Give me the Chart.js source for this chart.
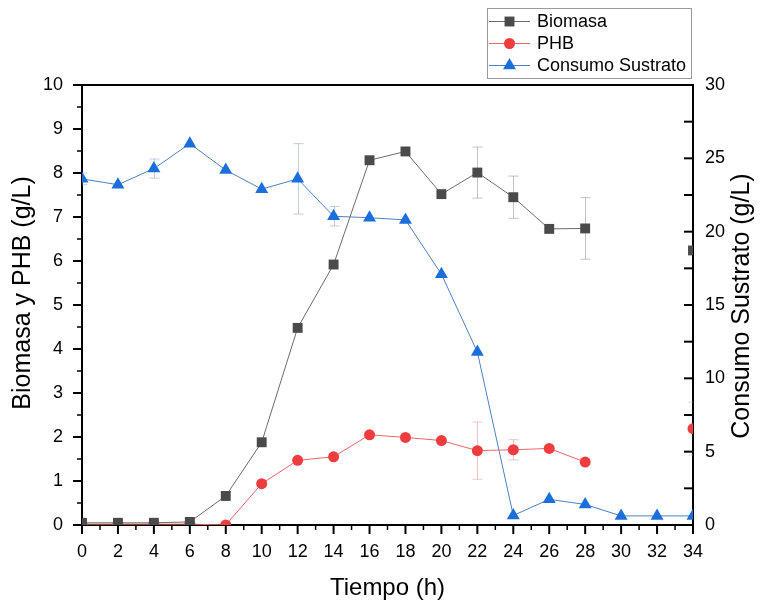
<!DOCTYPE html>
<html>
<head>
<meta charset="utf-8">
<script src="https://cdn.jsdelivr.net/npm/chart.js@4/dist/chart.umd.min.js"></script>
<style>
  html, body { margin: 0; padding: 0; background: #fff; }
  #wrap { width: 761px; height: 603px; }
</style>
</head>
<body>
<div id="wrap"><canvas id="chart" width="761" height="603"></canvas></div>
<script>
// data
const hours = [0, 2, 4, 6, 8, 10, 12, 14, 16, 18, 20, 22, 24, 26, 28, 30, 32, 34];
const biomasa = [0.05, 0.05, 0.05, 0.07, 0.66, 1.88, 4.48, 5.92, 8.29, 8.49, 7.52, 8.01, 7.45, 6.73, 6.74, null, null, 6.24];
const biomasaErr = [0, 0, 0, 0, 0, 0, 0, 0, 0, 0, 0, 0.58, 0.48, 0, 0.7, 0, 0, 0];
const phb = [0.02, 0.02, 0.02, 0.02, 0.0, 0.94, 1.47, 1.55, 2.05, 1.99, 1.92, 1.69, 1.71, 1.74, 1.43, null, null, 2.19];
const phbErr = [0, 0, 0, 0, 0, 0, 0, 0, 0, 0, 0, 0.65, 0.23, 0, 0, 0, 0, 0.6];
const sustrato = [23.6, 23.2, 24.3, 26.0, 24.2, 22.9, 23.6, 21.05, 20.95, 20.8, 17.1, 11.8, 0.65, 1.75, 1.4, 0.62, 0.62, 0.62];
const sustratoErr = [0.4, 0, 0.65, 0, 0, 0, 2.4, 0.66, 0, 0, 0, 0, 0, 0, 0, 0, 0, 0];

const xTicks = [0, 34, 2];      // min, max, step
const yLeftTicks = [0, 10, 1];
const yRightTicks = [0, 30, 5];

const FONT = "'Liberation Sans', Arial, sans-serif";
Chart.defaults.font.family = FONT;
Chart.defaults.color = '#000';

const toXY = (vals) => hours.map((h, i) => ({ x: h, y: vals[i] }));

const series = [
  { label: 'Biomasa', values: biomasa, err: biomasaErr, axis: 'y',
    line: '#6b6b6b', fill: '#4a4a4a', style: 'rect', r: 7, errColor: 'rgba(120,120,120,0.45)' },
  { label: 'PHB', values: phb, err: phbErr, axis: 'y',
    line: '#e8686a', fill: '#ef3d3f', style: 'circle', r: 5.5, errColor: 'rgba(225,130,130,0.45)' },
  { label: 'Consumo Sustrato', values: sustrato, err: sustratoErr, axis: 'y2',
    line: '#4f80bf', fill: '#1b6fdd', style: 'triangle', r: 7.5, errColor: 'rgba(100,130,180,0.4)' }
];

// error bars + frame/ticks/legend/titles
const extras = {
  id: 'extras',
  beforeDatasetsDraw(chart) {
    const { ctx, chartArea: a } = chart;
    const xs = chart.scales.x;
    ctx.save();
    ctx.beginPath();
    ctx.rect(a.left, a.top, a.right - a.left, a.bottom - a.top);
    ctx.clip();
    ctx.lineWidth = 1;
    series.forEach(s => {
      const ys = chart.scales[s.axis];
      ctx.strokeStyle = s.errColor;
      hours.forEach((h, i) => {
        const v = s.values[i], e = s.err[i];
        if (v === null || !e) return;
        const px = Math.round(xs.getPixelForValue(h)) + 0.5;
        const top = ys.getPixelForValue(v + e);
        const bot = ys.getPixelForValue(v - e);
        ctx.beginPath();
        ctx.moveTo(px, top); ctx.lineTo(px, bot);
        ctx.moveTo(px - 5, top); ctx.lineTo(px + 5, top);
        ctx.moveTo(px - 5, bot); ctx.lineTo(px + 5, bot);
        ctx.stroke();
      });
    });
    ctx.restore();
  },
  afterDraw(chart) {
    const { ctx, chartArea: a } = chart;
    const xs = chart.scales.x, yl = chart.scales.y, yr = chart.scales.y2;
    ctx.save();
    ctx.strokeStyle = '#000';

    // top frame line
    ctx.lineWidth = 2;
    ctx.beginPath();
    ctx.moveTo(a.left - 1, a.top); ctx.lineTo(a.right + 1, a.top);
    ctx.stroke();

    // x ticks (outward), minor every hour
    for (let h = xTicks[0]; h <= xTicks[1]; h++) {
      const px = xs.getPixelForValue(h);
      const len = h % 2 === 0 ? 9 : 5;
      ctx.lineWidth = h % 2 === 0 ? 2 : 1.5;
      ctx.beginPath();
      ctx.moveTo(px, a.bottom); ctx.lineTo(px, a.bottom + len);
      ctx.stroke();
    }
    // left y ticks (outward)
    for (let v = 0; v <= yLeftTicks[1] + 0.001; v += 0.5) {
      const py = yl.getPixelForValue(v);
      const major = Math.abs(v - Math.round(v)) < 0.01;
      ctx.lineWidth = major ? 2 : 1.5;
      ctx.beginPath();
      ctx.moveTo(a.left, py); ctx.lineTo(a.left - (major ? 9 : 5), py);
      ctx.stroke();
    }
    // right y ticks (inward)
    for (let v = 0; v <= yRightTicks[1] + 0.001; v += 2.5) {
      const py = yr.getPixelForValue(v);
      ctx.lineWidth = 2;
      ctx.beginPath();
      ctx.moveTo(a.right, py); ctx.lineTo(a.right - 9, py);
      ctx.stroke();
    }

    // axis titles on the y sides (both read bottom to top)
    ctx.fillStyle = '#000';
    ctx.font = '25px ' + FONT;
    ctx.textAlign = 'center';
    ctx.textBaseline = 'middle';
    ctx.save();
    ctx.translate(23, 293);
    ctx.rotate(-Math.PI / 2);
    ctx.fillText('Biomasa y PHB (g/L)', 0, 0);
    ctx.restore();
    ctx.save();
    ctx.translate(742, 306);
    ctx.rotate(-Math.PI / 2);
    ctx.fillText('Consumo Sustrato (g/L)', 0, 0);
    ctx.restore();

    // legend box
    ctx.strokeStyle = '#9a9a9a';
    ctx.lineWidth = 1;
    ctx.strokeRect(487.5, 8.5, 204, 70);
    ctx.font = '18px ' + FONT;
    ctx.textAlign = 'left';
    series.forEach((s, i) => {
      const y = 21.5 + i * 22;
      ctx.strokeStyle = s.line;
      ctx.lineWidth = 1;
      ctx.beginPath();
      ctx.moveTo(489, y); ctx.lineTo(530, y);
      ctx.stroke();
      ctx.fillStyle = s.fill;
      ctx.strokeStyle = s.fill;
      Chart.helpers.drawPoint(ctx, { pointStyle: s.style, radius: s.r, borderWidth: 0, rotation: 0 }, 509.5, y);
      ctx.fillStyle = '#000';
      ctx.fillText(s.label, 537, y + 1);
    });
    ctx.restore();
  }
};

new Chart(document.getElementById('chart'), {
  type: 'line',
  data: {
    datasets: series.map(s => ({
      label: s.label,
      data: toXY(s.values),
      yAxisID: s.axis,
      borderColor: s.line,
      borderWidth: 1,
      backgroundColor: s.fill,
      pointStyle: s.style,
      pointRadius: s.r,
      pointHoverRadius: s.r,
      pointBackgroundColor: s.fill,
      pointBorderColor: s.fill,
      pointBorderWidth: 0,
      tension: 0,
      spanGaps: false,
      clip: 0
    }))
  },
  options: {
    responsive: false,
    animation: false,
    layout: { padding: { top: 85, left: 0, right: 0, bottom: 0 } },
    plugins: {
      legend: { display: false },
      tooltip: { enabled: false }
    },
    scales: {
      x: {
        type: 'linear',
        min: xTicks[0],
        max: xTicks[1],
        grid: { display: false, drawTicks: false },
        border: { display: true, color: '#000', width: 2 },
        ticks: { stepSize: xTicks[2], padding: 16, maxRotation: 0, font: { size: 18 }, color: '#000' },
        title: { display: true, text: 'Tiempo (h)', font: { size: 24 }, padding: { top: 0, bottom: 0 } },
        afterFit(scale) { scale.height = 78; }
      },
      y: {
        position: 'left',
        min: yLeftTicks[0],
        max: yLeftTicks[1],
        grid: { display: false, drawTicks: false },
        border: { display: true, color: '#000', width: 2 },
        ticks: { stepSize: yLeftTicks[2], padding: 19, font: { size: 18 }, color: '#000' },
        afterFit(scale) { scale.width = 82; }
      },
      y2: {
        position: 'right',
        min: yRightTicks[0],
        max: yRightTicks[1],
        grid: { display: false, drawTicks: false, drawOnChartArea: false },
        border: { display: true, color: '#000', width: 2 },
        ticks: { stepSize: yRightTicks[2], padding: 12, font: { size: 18 }, color: '#000' },
        afterFit(scale) { scale.width = 68; }
      }
    }
  },
  plugins: [extras]
});
</script>
</body>
</html>
